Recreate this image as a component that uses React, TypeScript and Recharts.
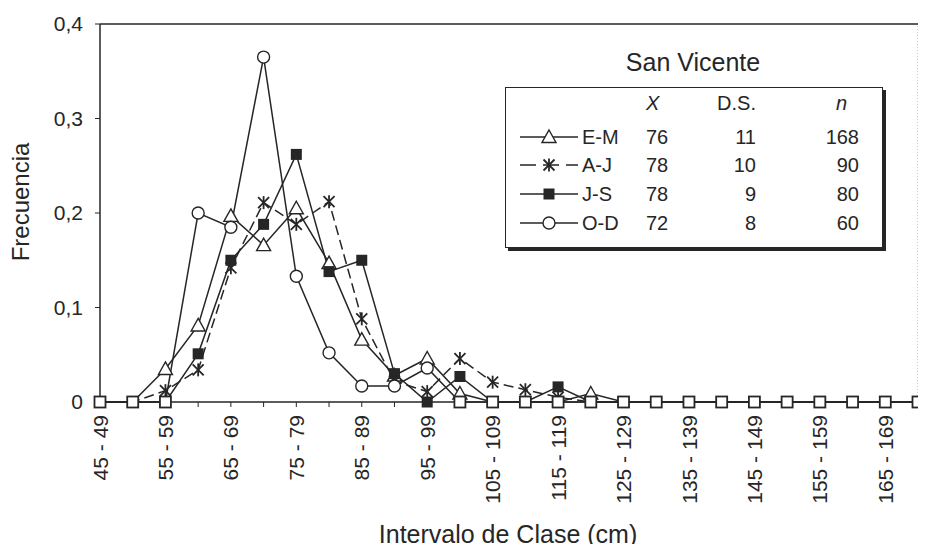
import { LineChart, Line, XAxis, YAxis, Legend, ReferenceLine, Label } from 'recharts'

const FONT = '"Liberation Sans", Arial, sans-serif'
const INK = '#262626'

// intervalos de clase (cm)
const intervalos = [
  '45 - 49', '50 - 54', '55 - 59', '60 - 64', '65 - 69', '70 - 74', '75 - 79',
  '80 - 84', '85 - 89', '90 - 94', '95 - 99', '100 - 104', '105 - 109',
  '110 - 114', '115 - 119', '120 - 124', '125 - 129', '130 - 134', '135 - 139',
  '140 - 144', '145 - 149', '150 - 154', '155 - 159', '160 - 164', '165 - 169',
  '170 - 174',
]

// frecuencias por trimestre
const em = [0, 0, 0.035, 0.081, 0.197, 0.166, 0.205, 0.147, 0.066, 0.028, 0.046, 0.009, 0, 0, 0, 0.009, 0, 0, 0, 0, 0, 0, 0, 0, 0, 0]
const aj = [0, 0, 0.012, 0.034, 0.142, 0.211, 0.188, 0.212, 0.088, 0.022, 0.011, 0.046, 0.021, 0.013, 0.005, 0, 0, 0, 0, 0, 0, 0, 0, 0, 0, 0]
const js = [0, 0, 0, 0.051, 0.15, 0.188, 0.262, 0.138, 0.15, 0.03, 0, 0.027, 0, 0, 0.016, 0, 0, 0, 0, 0, 0, 0, 0, 0, 0, 0]
const od = [0, 0, 0, 0.2, 0.185, 0.365, 0.133, 0.052, 0.017, 0.017, 0.036, 0, 0, 0, 0, 0, 0, 0, 0, 0, 0, 0, 0, 0, 0, 0]

// tabla de la leyenda
const periodos = ['E-M', 'A-J', 'J-S', 'O-D']
const marcas = ['tri', 'star', 'sq', 'circ']
const media = [76, 78, 78, 72]
const desv = [11, 10, 9, 8]
const nObs = [168, 90, 80, 60]

const yTicks = [0, 0.1, 0.2, 0.3, 0.4]

const data = intervalos.map((intervalo, i) => ({
  intervalo,
  em: em[i],
  aj: aj[i],
  js: js[i],
  od: od[i],
}))

function Marker({ kind, cx, cy }: { kind: string; cx: number; cy: number }) {
  if (kind === 'tri') {
    return (
      <path
        d={`M${cx},${cy - 7} L${cx + 7},${cy + 5.5} L${cx - 7},${cy + 5.5} Z`}
        fill="#fff"
        stroke={INK}
        strokeWidth={1.4}
      />
    )
  }
  if (kind === 'star') {
    return (
      <g stroke={INK} strokeWidth={1.8}>
        <line x1={cx} y1={cy - 6.5} x2={cx} y2={cy + 6.5} />
        <line x1={cx - 5.5} y1={cy - 5.5} x2={cx + 5.5} y2={cy + 5.5} />
        <line x1={cx + 5.5} y1={cy - 5.5} x2={cx - 5.5} y2={cy + 5.5} />
      </g>
    )
  }
  if (kind === 'sq') {
    return <rect x={cx - 5.5} y={cy - 5.5} width={11} height={11} fill={INK} />
  }
  if (kind === 'zero') {
    return <rect x={cx - 5.5} y={cy - 5.5} width={11} height={11} fill="#fff" stroke={INK} strokeWidth={1.8} />
  }
  return <circle cx={cx} cy={cy} r={6} fill="#fff" stroke={INK} strokeWidth={1.4} />
}

const dotFor = (kind: string, hideZero: boolean) => (p: any) => {
  const key = `${kind}-${p.index}`
  if (p.cx == null || p.cy == null) return <g key={key} />
  if (p.value === 0) {
    if (kind === 'circ') return <Marker key={key} kind="zero" cx={p.cx} cy={p.cy} />
    if (hideZero) return <g key={key} />
  }
  return <Marker key={key} kind={kind} cx={p.cx} cy={p.cy} />
}

const TickX = ({ x, y, payload, index }: any) => {
  const i = payload?.index ?? index
  if (i % 2 !== 0) return <g />
  return (
    <text
      transform={`translate(${x},${y + 6}) rotate(-90)`}
      textAnchor="end"
      dy="0.36em"
      fontSize={21}
      fontFamily={FONT}
      fill={INK}
    >
      {payload.value}
    </text>
  )
}

const cell = (left: number, top: number, text: any, align: 'left' | 'right', extra: any = {}) => (
  <div
    style={{
      position: 'absolute',
      top: top - 12,
      height: 24,
      lineHeight: '24px',
      whiteSpace: 'nowrap',
      ...(align === 'left' ? { left } : { right: 378 - left }),
      ...extra,
    }}
  >
    {text}
  </div>
)

function Leyenda() {
  const rowsY = [49, 77, 106, 135]
  return (
    <div style={{ position: 'relative', fontFamily: FONT, color: INK }}>
      <div style={{ position: 'absolute', left: 553, top: 48, width: 280, textAlign: 'center', fontSize: 25 }}>
        San Vicente
      </div>
      <div
        style={{
          position: 'absolute',
          left: 505,
          top: 87,
          width: 378,
          height: 161,
          boxSizing: 'border-box',
          border: `1px solid ${INK}`,
          boxShadow: `3px 3px 0 ${INK}`,
          background: '#fff',
          fontSize: 20,
        }}
      >
        {cell(140, 15, 'X', 'left', { fontStyle: 'italic' })}
        {cell(252, 15, 'D.S.', 'right')}
        {cell(343, 15, 'n', 'right', { fontStyle: 'italic' })}
        {periodos.map((p, i) => (
          <div key={p}>
            <svg
              width={58}
              height={20}
              style={{ position: 'absolute', left: 14, top: rowsY[i] - 10 }}
            >
              <line
                x1={0}
                y1={10}
                x2={58}
                y2={10}
                stroke={INK}
                strokeWidth={1.6}
                strokeDasharray={marcas[i] === 'star' ? '16 7' : undefined}
              />
              <Marker kind={marcas[i]} cx={29} cy={10} />
            </svg>
            {cell(76, rowsY[i], p, 'left')}
            {cell(140, rowsY[i], media[i], 'left')}
            {cell(252, rowsY[i], desv[i], 'right')}
            {cell(355, rowsY[i], nObs[i], 'right')}
          </div>
        ))}
      </div>
    </div>
  )
}

export default function App() {
  return (
    <div style={{ margin: -8, width: 926, height: 552, background: '#fff', position: 'relative', overflow: 'hidden' }}>
      <LineChart width={926} height={552} data={data} margin={{ top: 24, right: 8, bottom: 0, left: 0 }}>
        <XAxis
          dataKey="intervalo"
          interval={0}
          height={150}
          tickSize={5}
          tick={(p: any) => <TickX {...p} />}
          tickLine={{ stroke: INK }}
          axisLine={{ stroke: INK, strokeWidth: 1.5 }}
          padding={{ left: 0, right: 0 }}
        >
          <Label
            content={() => (
              <text x={508} y={543} textAnchor="middle" fontSize={25} fontFamily={FONT} fill={INK}>
                Intervalo de Clase (cm)
              </text>
            )}
          />
        </XAxis>
        <YAxis
          domain={[0, 0.4]}
          ticks={yTicks}
          width={100}
          tickSize={5}
          tickMargin={12}
          tickFormatter={(v: number) => String(v).replace('.', ',')}
          tick={{ fontSize: 21, fill: INK, fontFamily: FONT }}
          tickLine={{ stroke: INK }}
          axisLine={{ stroke: INK, strokeWidth: 1.5 }}
        >
          <Label
            content={() => (
              <text
                x={20}
                y={202}
                transform="rotate(-90 20 202)"
                textAnchor="middle"
                dominantBaseline="central"
                fontSize={24}
                fontFamily={FONT}
                fill={INK}
              >
                Frecuencia
              </text>
            )}
          />
        </YAxis>
        <ReferenceLine y={0.4} stroke={INK} strokeWidth={1.5} />
        <ReferenceLine x="170 - 174" stroke="#9a9a9a" strokeDasharray="1 2" />
        <Legend
          verticalAlign="middle"
          align="center"
          layout="horizontal"
          wrapperStyle={{ left: 0, top: 0, width: 926, height: 0 }}
          content={() => <Leyenda />}
        />
        <Line type="linear" dataKey="em" name="E-M" stroke={INK} strokeWidth={1.5} dot={dotFor('tri', true)} activeDot={false} isAnimationActive={false} />
        <Line type="linear" dataKey="aj" name="A-J" stroke={INK} strokeWidth={1.5} strokeDasharray="10 5" dot={dotFor('star', true)} activeDot={false} isAnimationActive={false} />
        <Line type="linear" dataKey="js" name="J-S" stroke={INK} strokeWidth={1.5} dot={dotFor('sq', false)} activeDot={false} isAnimationActive={false} />
        <Line type="linear" dataKey="od" name="O-D" stroke={INK} strokeWidth={1.5} dot={dotFor('circ', false)} activeDot={false} isAnimationActive={false} />
      </LineChart>
    </div>
  )
}
